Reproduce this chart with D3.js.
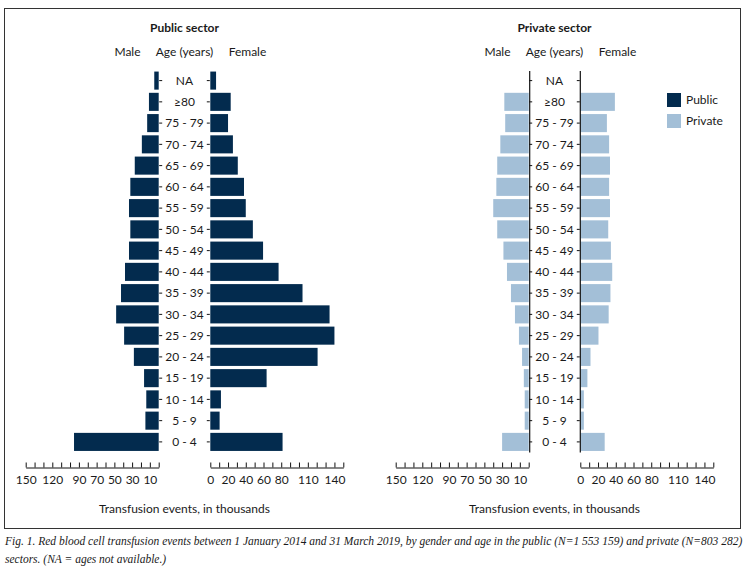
<!DOCTYPE html>
<html>
<head>
<meta charset="utf-8">
<script src="https://cdn.jsdelivr.net/npm/d3@7"></script>
<style>
    body { margin: 0; background: #fff; }
    text { font-family: Lato, "Open Sans", sans-serif; fill: #1a1a1a; }
    .caption { font-family: "Liberation Serif", serif; font-style: italic; }
</style>
</head>
<body>
<div id="chart"></div>
<script>
// Age groups, top to bottom
var AGES = ["NA", "\u226580", "75 - 79", "70 - 74", "65 - 69", "60 - 64", "55 - 59",
    "50 - 54", "45 - 49", "40 - 44", "35 - 39", "30 - 34", "25 - 29", "20 - 24",
    "15 - 19", "10 - 14", "5 - 9", "0 - 4"];

// Transfusion events, thousands
var publicMale   = [5, 11, 13, 19, 27, 32, 33.5, 32, 33.5, 38, 42.5, 48, 39, 28, 16.5, 14, 15, 95.5];
var publicFemale = [6.5, 23, 20, 25.5, 31, 38, 40, 48, 59.5, 77, 104, 134.5, 140, 121, 63.5, 12, 10.5, 81.5];
var privateMale   = [0, 27.5, 26.5, 32, 35.5, 36.5, 40, 35.5, 28.5, 24.5, 20, 15.5, 11, 7.5, 5.5, 4.5, 4.5, 30];
var privateFemale = [0, 39, 30, 32.5, 33.5, 32.5, 33.5, 31.5, 34.5, 36, 34, 32, 20.5, 11.5, 8, 4, 4, 27.5];

var MALE_TICK_LABELS = [150, 120, 90, 70, 50, 30, 10];
var FEMALE_TICK_LABELS = [0, 20, 40, 60, 80, 110, 140];

var COLORS = { Public: "#032b4e", Private: "#a3bfd7" };

var width = 749, height = 571;

var svg = d3.select("#chart").append("svg")
    .attr("width", width)
    .attr("height", height);

// frame round the figure
svg.append("rect")
    .attr("x", 4.5).attr("y", 8.5)
    .attr("width", 736).attr("height", 520)
    .attr("fill", "none")
    .attr("stroke", "#333")
    .attr("stroke-width", 1);

var y = d3.scaleBand()
    .domain(AGES)
    .range([70.5, 452])
    .paddingInner(0.15)
    .paddingOuter(0.05);

var axisY = 467.5;

function drawPyramid(panel) {
    var g = svg.append("g");
    var maleX = d3.scaleLinear().domain([0, 150]).range([panel.maleZero, panel.maleZero - 133]);
    var femaleX = d3.scaleLinear().domain([0, 150]).range([panel.femaleZero, panel.femaleZero + 133]);
    var mid = (panel.maleZero + panel.femaleZero) / 2;

    // Titles
    g.append("text")
        .attr("x", mid).attr("y", 32)
        .attr("text-anchor", "middle")
        .style("font-weight", "bold")
        .style("font-size", "12px")
        .text(panel.title);

    g.append("text").attr("x", mid).attr("y", 56)
        .attr("text-anchor", "middle").style("font-size", "12px")
        .text("Age (years)");
    g.append("text").attr("x", mid - 57).attr("y", 56)
        .attr("text-anchor", "middle").style("font-size", "12px")
        .text("Male");
    g.append("text").attr("x", mid + 63).attr("y", 56)
        .attr("text-anchor", "middle").style("font-size", "12px")
        .text("Female");

    // Bars
    g.selectAll(".male")
        .data(panel.male)
        .enter().append("rect")
        .attr("class", "male")
        .attr("x", function(d) { return maleX(d); })
        .attr("y", function(d, i) { return y(AGES[i]); })
        .attr("width", function(d) { return maleX(0) - maleX(d); })
        .attr("height", y.bandwidth())
        .attr("fill", panel.color);

    g.selectAll(".female")
        .data(panel.female)
        .enter().append("rect")
        .attr("class", "female")
        .attr("x", femaleX(0))
        .attr("y", function(d, i) { return y(AGES[i]); })
        .attr("width", function(d) { return femaleX(d) - femaleX(0); })
        .attr("height", y.bandwidth())
        .attr("fill", panel.color);

    // Age axes (vertical): ticks toward the labels
    var leftAxis = g.append("g")
        .attr("transform", "translate(" + (panel.maleZero + 0.5) + ",0)")
        .call(d3.axisRight(y).tickSize(3).tickSizeOuter(0).tickFormat(""));
    var rightAxis = g.append("g")
        .attr("transform", "translate(" + (panel.femaleZero - 0.5) + ",0)")
        .call(d3.axisLeft(y).tickSize(3).tickSizeOuter(0).tickFormat(""));
    [leftAxis, rightAxis].forEach(function(a) {
        a.select(".domain").attr("stroke", panel.showSpine ? "#111" : "none").attr("stroke-width", 1.2);
        a.selectAll(".tick line").attr("stroke", "#111");
    });

    // Age labels
    g.selectAll(".age")
        .data(AGES)
        .enter().append("text")
        .attr("class", "age")
        .attr("x", mid)
        .attr("y", function(d) { return y(d) + y.bandwidth() / 2; })
        .attr("dy", "0.36em")
        .attr("text-anchor", "middle")
        .style("font-size", "12px")
        .text(function(d) { return d; });

    // Value axes
    function valueAxis(scale, labels) {
        return d3.axisBottom(scale)
            .tickValues(d3.range(0, 151, 10))
            .tickSizeInner(-5)
            .tickSizeOuter(0)
            .tickPadding(8)
            .tickFormat(function(d) { return labels.indexOf(d) >= 0 ? d : ""; });
    }
    [[maleX, MALE_TICK_LABELS], [femaleX, FEMALE_TICK_LABELS]].forEach(function(p) {
        var ax = g.append("g")
            .attr("transform", "translate(0," + axisY + ")")
            .call(valueAxis(p[0], p[1]));
        ax.select(".domain").attr("stroke", "#111");
        ax.selectAll(".tick line").attr("stroke", "#111");
        ax.selectAll(".tick text")
            .style("font-family", "Lato, sans-serif")
            .style("font-size", "12px")
            .attr("fill", "#1a1a1a");
    });

    g.append("text")
        .attr("x", mid).attr("y", 513)
        .attr("text-anchor", "middle")
        .style("font-size", "12px")
        .text("Transfusion events, in thousands");
}

drawPyramid({
    title: "Public sector",
    male: publicMale, female: publicFemale,
    maleZero: 158.7, femaleZero: 210.3,
    color: COLORS.Public, showSpine: false
});

drawPyramid({
    title: "Private sector",
    male: privateMale, female: privateFemale,
    maleZero: 528.7, femaleZero: 580.3,
    color: COLORS.Private, showSpine: true
});

// Legend
var legend = svg.append("g").attr("transform", "translate(667,93)");
var legendItems = legend.selectAll("g")
    .data(["Public", "Private"])
    .enter().append("g")
    .attr("transform", function(d, i) { return "translate(0," + (i * 21) + ")"; });
legendItems.append("rect")
    .attr("width", 14).attr("height", 14)
    .attr("fill", function(d) { return COLORS[d]; });
legendItems.append("text")
    .attr("x", 19).attr("y", 7).attr("dy", "0.36em")
    .style("font-size", "12px")
    .text(function(d) { return d; });

// Caption
var caption = svg.append("text")
    .attr("class", "caption")
    .style("font-size", "11.5px");
caption.append("tspan").attr("x", 5).attr("y", 545)
    .text("Fig. 1. Red blood cell transfusion events between 1 January 2014 and 31 March 2019, by gender and age in the public (N=1 553 159) and private (N=803 282)");
caption.append("tspan").attr("x", 5).attr("y", 563)
    .text("sectors. (NA = ages not available.)");
</script>
</body>
</html>
